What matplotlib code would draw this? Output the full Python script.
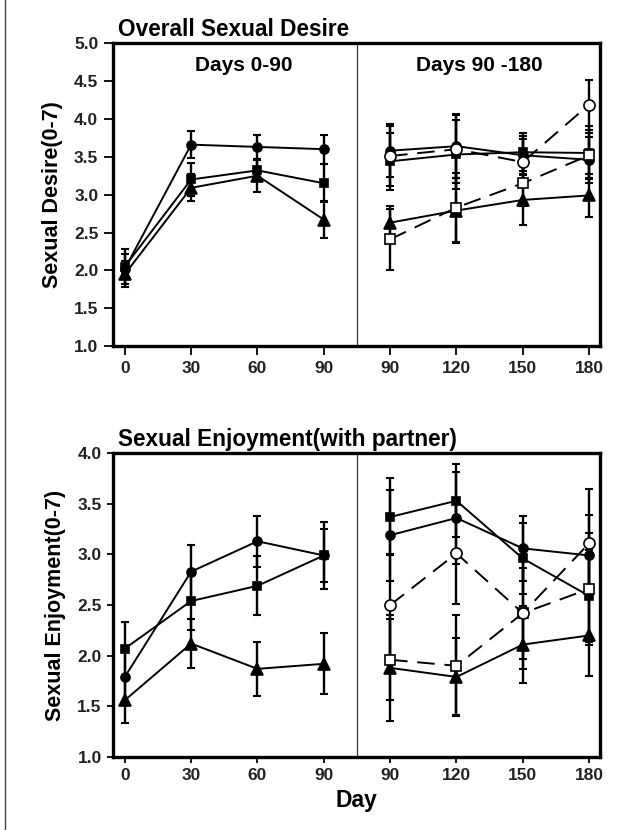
import matplotlib
matplotlib.use("Agg")
import matplotlib.pyplot as plt
from matplotlib.lines import Line2D

plt.rcParams['font.family'] = ['Liberation Sans', 'DejaVu Sans']

# Tick labels along the day axis (two study periods side by side)
day_labels = ['0', '30', '60', '90', '90', '120', '150', '180']

# ---- Overall sexual desire ----
# Days 0-90
desire_p1_circle = [2.02, 3.66, 3.63, 3.60]
desire_p1_circle_err = [0.20, 0.18, 0.16, 0.19]
desire_p1_square = [2.05, 3.20, 3.32, 3.15]
desire_p1_square_err = [0.23, 0.22, 0.14, 0.25]
desire_p1_triangle = [1.95, 3.09, 3.25, 2.67]
desire_p1_triangle_err = [0.17, 0.18, 0.22, 0.24]
# Days 90-180
desire_p2_circle = [3.58, 3.64, 3.52, 3.46]
desire_p2_circle_err = [0.35, 0.42, 0.25, 0.30]
desire_p2_square = [3.44, 3.53, 3.56, 3.55]
desire_p2_square_err = [0.38, 0.45, 0.25, 0.35]
desire_p2_opencircle = [3.51, 3.60, 3.43, 4.19]
desire_p2_opencircle_err = [0.40, 0.45, 0.30, 0.33]
desire_p2_triangle = [2.63, 2.79, 2.93, 2.99]
desire_p2_triangle_err = [0.22, 0.43, 0.33, 0.28]
desire_p2_opensquare = [2.41, 2.83, 3.15, 3.52]
desire_p2_opensquare_err = [0.40, 0.45, 0.30, 0.30]

# ---- Sexual enjoyment with partner ----
# Days 0-90
enjoy_p1_circle = [1.79, 2.83, 3.13, 2.99]
enjoy_p1_circle_err = [0.25, 0.26, 0.25, 0.33]
enjoy_p1_square = [2.07, 2.54, 2.69, 2.99]
enjoy_p1_square_err = [0.26, 0.29, 0.29, 0.26]
enjoy_p1_triangle = [1.56, 2.12, 1.87, 1.92]
enjoy_p1_triangle_err = [0.22, 0.24, 0.27, 0.30]
# Days 90-180
enjoy_p2_circle = [3.19, 3.36, 3.06, 2.99]
enjoy_p2_circle_err = [0.45, 0.45, 0.32, 0.40]
enjoy_p2_square = [3.37, 3.53, 2.96, 2.59]
enjoy_p2_square_err = [0.38, 0.36, 0.35, 0.45]
enjoy_p2_opencircle = [2.50, 3.01, 2.42, 3.11]
enjoy_p2_opencircle_err = [0.50, 0.50, 0.55, 0.54]
enjoy_p2_opensquare = [1.96, 1.90, 2.42, 2.66]
enjoy_p2_opensquare_err = [0.40, 0.50, 0.45, 0.55]
enjoy_p2_triangle = [1.88, 1.79, 2.11, 2.20]
enjoy_p2_triangle_err = [0.52, 0.38, 0.38, 0.40]

x1 = [0, 1, 2, 3]
x2 = [4, 5, 6, 7]

DASH = (0, (9, 5))
STYLE = {
    'circle': dict(marker='o', ms=6.5, mfc='black', mec='black', ls='-'),
    'square': dict(marker='s', ms=6.0, mfc='black', mec='black', ls='-'),
    'triangle': dict(marker='^', ms=8.0, mfc='black', mec='black', ls='-'),
    'opencircle': dict(marker='o', ms=8.0, mfc='white', mec='black', ls=DASH),
    'opensquare': dict(marker='s', ms=7.5, mfc='white', mec='black', ls=DASH),
}


def series(ax, x, y, err, kind):
    st = STYLE[kind]
    ax.errorbar(x, y, yerr=err, fmt='none', ecolor='black', elinewidth=1.7,
                capsize=3.2, capthick=1.5, zorder=2)
    ax.plot(x, y, color='black', lw=1.4, linestyle=st['ls'], marker=st['marker'],
            ms=st['ms'], mfc=st['mfc'], mec=st['mec'], mew=1.2, zorder=3)


def style_axes(ax, ylo, yhi, ylabel, ticklen):
    ax.set_xlim(-0.18, 7.16)
    ax.set_ylim(ylo, yhi)
    ax.set_xticks(range(8))
    ax.set_xticklabels(day_labels)
    ticks = [ylo + 0.5 * i for i in range(int(round((yhi - ylo) / 0.5)) + 1)]
    ax.set_yticks(ticks)
    ax.set_yticklabels([f'{t:.1f}' for t in ticks])
    ax.tick_params(direction='out', length=ticklen, width=1.3, labelsize=12.5,
                   pad=4, colors='black')
    for lab in ax.get_xticklabels() + ax.get_yticklabels():
        lab.set_fontweight('bold')
        lab.set_color('#222222')
    for sp in ax.spines.values():
        sp.set_linewidth(2.4)
    ax.axvline(3.5, color='#333333', lw=0.9, zorder=1)
    ax.set_ylabel(ylabel, fontsize=15.5, fontweight='bold', labelpad=8)


fig = plt.figure(figsize=(6.34, 8.30), dpi=100)
ax1 = fig.add_axes([0.178, 0.583, 0.768, 0.365])
ax2 = fig.add_axes([0.178, 0.088, 0.768, 0.366])

# Top panel
series(ax1, x1, desire_p1_circle, desire_p1_circle_err, 'circle')
series(ax1, x1, desire_p1_square, desire_p1_square_err, 'square')
series(ax1, x1, desire_p1_triangle, desire_p1_triangle_err, 'triangle')
series(ax1, x2, desire_p2_circle, desire_p2_circle_err, 'circle')
series(ax1, x2, desire_p2_square, desire_p2_square_err, 'square')
series(ax1, x2, desire_p2_triangle, desire_p2_triangle_err, 'triangle')
series(ax1, x2, desire_p2_opensquare, desire_p2_opensquare_err, 'opensquare')
series(ax1, x2, desire_p2_opencircle, desire_p2_opencircle_err, 'opencircle')
style_axes(ax1, 1.0, 5.0, 'Sexual Desire(0-7)', 6.5)
ax1.text(1.8, 0.925, 'Days 0-90', transform=ax1.get_xaxis_transform(),
         ha='center', va='center', fontsize=15, fontweight='bold')
ax1.text(5.35, 0.925, 'Days 90 -180', transform=ax1.get_xaxis_transform(),
         ha='center', va='center', fontsize=15, fontweight='bold')
ax1.text(0.01, 1.008, 'Overall Sexual Desire', transform=ax1.transAxes,
         ha='left', va='bottom', fontsize=16.3, fontweight='bold')

# Bottom panel
series(ax2, x1, enjoy_p1_circle, enjoy_p1_circle_err, 'circle')
series(ax2, x1, enjoy_p1_square, enjoy_p1_square_err, 'square')
series(ax2, x1, enjoy_p1_triangle, enjoy_p1_triangle_err, 'triangle')
series(ax2, x2, enjoy_p2_circle, enjoy_p2_circle_err, 'circle')
series(ax2, x2, enjoy_p2_square, enjoy_p2_square_err, 'square')
series(ax2, x2, enjoy_p2_triangle, enjoy_p2_triangle_err, 'triangle')
series(ax2, x2, enjoy_p2_opensquare, enjoy_p2_opensquare_err, 'opensquare')
series(ax2, x2, enjoy_p2_opencircle, enjoy_p2_opencircle_err, 'opencircle')
style_axes(ax2, 1.0, 4.0, 'Sexual Enjoyment(0-7)', 4)
ax2.text(0.01, 1.008, 'Sexual Enjoyment(with partner)', transform=ax2.transAxes,
         ha='left', va='bottom', fontsize=16.3, fontweight='bold')
ax2.set_xlabel('Day', fontsize=16.5, fontweight='bold', labelpad=4)

# Page rule along the left edge
fig.add_artist(Line2D([0.008, 0.008], [0.0, 1.0], transform=fig.transFigure,
                      color='#444444', lw=1.0))

fig.savefig('out.png', dpi=100, facecolor='white')
